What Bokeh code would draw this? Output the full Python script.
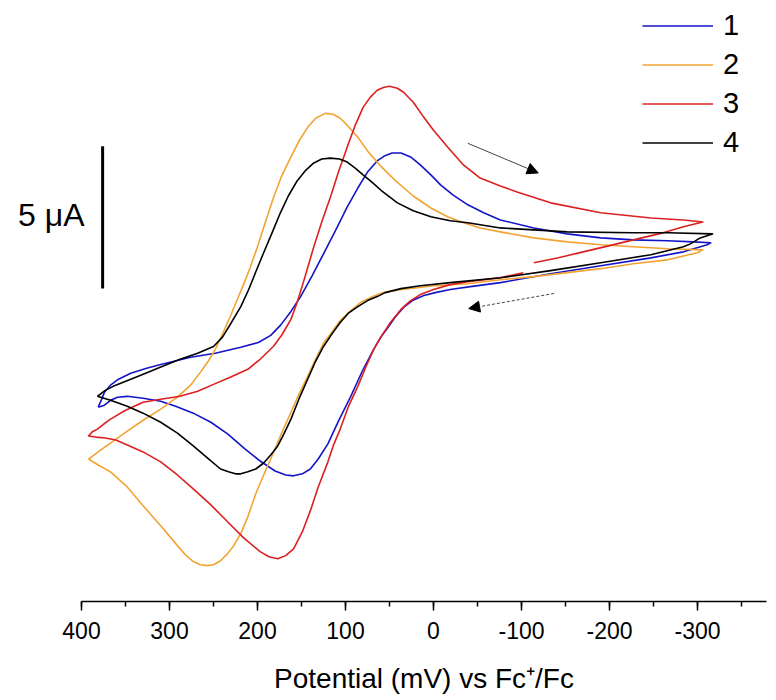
from bokeh.plotting import figure
from bokeh.models import (Range1d, SingleIntervalTicker, FixedTicker, Legend, LegendItem,
                          Arrow, NormalHead, PrintfTickFormatter)
from bokeh.embed import file_html
from bokeh.resources import INLINE

# ---------------- data (potential in mV vs Fc+/Fc, current in uA, arbitrary zero) -------------
# curve 1 : upper branch (left->right) then lower branch (right->left)
E1 = [381, 378, 374, 367, 358, 344, 327, 310, 276, 248, 219, 199, 185, 174, 162, 151, 138, 125,
      111, 98, 86, 75, 64, 56, 47, 37, 26, 15, 3, -8, -22, -39, -57, -76, -114, -152, -190,
      -227, -266, -295, -315,
      -311, -284, -247, -190, -133, -76, -42, -19, -2, 11, 24, 34, 43, 51, 60, 68, 81, 94, 108,
      120, 131, 140, 149, 159, 168, 180, 197, 214, 234, 253, 273, 293, 310, 330, 348, 359, 367,
      374, 381]
I1 = [-4.16, -3.95, -3.64, -3.39, -3.18, -2.97, -2.80, -2.66, -2.41, -2.27, -2.06, -1.89, -1.64,
      -1.29, -0.80, -0.28, 0.45, 1.22, 2.06, 2.87, 3.53, 4.09, 4.48, 4.65, 4.76, 4.76, 4.62,
      4.34, 3.99, 3.64, 3.29, 2.94, 2.66, 2.41, 2.13, 1.92, 1.78, 1.71, 1.68, 1.64, 1.61,
      1.54, 1.29, 1.08, 0.80, 0.52, 0.21, 0.07, -0.03, -0.14, -0.24, -0.42, -0.66, -0.98, -1.33,
      -1.71, -2.13, -2.90, -3.78, -4.65, -5.45, -5.98, -6.33, -6.50, -6.57, -6.54, -6.40, -6.05,
      -5.63, -5.10, -4.69, -4.37, -4.13, -3.95, -3.85, -3.78, -3.81, -3.92, -4.09, -4.16]

# curve 2
E2 = [392, 378, 367, 348, 330, 310, 291, 276, 265, 256, 248, 239, 231, 223, 215, 208, 200, 191,
      182, 173, 162, 153, 143, 134, 123, 114, 106, 97, 86, 74, 60, 43, 23, 3, -16, -34, -53,
      -76, -114, -152, -190, -227, -266, -306,
      -300, -266, -227, -190, -152, -114, -76, -39, 0, 18, 37, 57, 69, 83, 94, 106, 115, 125,
      134, 143, 153, 162, 174, 185, 194, 202, 211, 219, 227, 234, 242, 250, 257, 265, 273, 282,
      291, 310, 330, 348, 367, 381, 392]
I2 = [-5.98, -5.66, -5.42, -5.00, -4.62, -4.23, -3.81, -3.39, -2.94, -2.55, -2.13, -1.54, -0.98,
      -0.38, 0.21, 0.77, 1.47, 2.34, 3.18, 3.92, 4.62, 5.17, 5.66, 5.98, 6.15, 6.12, 5.98, 5.70,
      5.31, 4.79, 4.30, 3.78, 3.25, 2.83, 2.52, 2.31, 2.13, 1.99, 1.78, 1.64, 1.54, 1.47, 1.40,
      1.36,
      1.26, 1.01, 0.87, 0.70, 0.56, 0.42, 0.31, 0.17, 0.10, 0.03, -0.03, -0.14, -0.28, -0.49,
      -0.77, -1.12, -1.50, -1.92, -2.48, -3.08, -3.71, -4.34, -5.17, -5.98, -6.61, -7.20, -8.01,
      -8.60, -9.02, -9.30, -9.55, -9.69, -9.72, -9.69, -9.58, -9.34, -9.02, -8.32, -7.62, -6.96,
      -6.43, -6.19, -5.98]

# curve 3 : starts on the lower branch near -100 mV
E3 = [-102, -76, -39, -19, 0, 15, 26, 37, 49, 60, 68, 77, 86, 97, 106, 114, 120, 131, 140, 149,
      159, 168, 177, 187, 197, 216, 234, 253, 273, 291, 310, 330, 348, 361, 373, 384, 392,
      388, 382, 375, 367, 350, 330, 310, 288, 268, 250, 231, 211, 197, 182, 172, 162, 155, 148,
      142, 136, 127, 117, 108, 98, 89, 80, 72, 64, 57, 50, 41, 34, 23, 11, 0, -16, -34, -53,
      -76, -95, -133, -190, -247, -284, -306,
      -284, -256, -227, -199, -170, -142, -114]
I3 = [0.56, 0.38, 0.24, 0.14, -0.03, -0.21, -0.42, -0.73, -1.19, -1.71, -2.13, -2.76, -3.43,
      -4.16, -4.93, -5.52, -6.08, -6.96, -7.80, -8.53, -9.13, -9.37, -9.48, -9.41, -9.23, -8.74,
      -8.18, -7.59, -7.03, -6.54, -6.08, -5.73, -5.49, -5.31, -5.24, -5.21, -5.17,
      -5.03, -4.93, -4.76, -4.58, -4.27, -3.99, -3.88, -3.78, -3.60, -3.36, -3.11, -2.83, -2.48,
      -2.03, -1.61, -1.08, -0.49, 0.21, 0.84, 1.47, 2.34, 3.22, 4.09, 4.97, 5.73, 6.36, 6.71,
      6.96, 7.06, 7.10, 7.03, 6.89, 6.54, 6.01, 5.56, 4.97, 4.34, 3.88, 3.60, 3.39, 3.01, 2.66,
      2.48, 2.41, 2.34,
      2.17, 1.92, 1.71, 1.50, 1.29, 1.08, 0.91]

# curve 4
E4 = [382, 373, 364, 344, 325, 305, 288, 268, 250, 240, 231, 219, 210, 201, 193, 183, 174, 165,
      155, 145, 136, 127, 117, 107, 98, 89, 80, 69, 60, 41, 23, 3, -19, -39, -76, -114, -152,
      -227, -266, -317,
      -303, -292, -284, -247, -190, -133, -76, -19, 15, 37, 55, 64, 75, 86, 97, 106, 115, 125,
      134, 143, 153, 162, 170, 177, 185, 193, 202, 211, 219, 225, 233, 242, 257, 273, 291, 310,
      330, 348, 367, 382]
I4 = [-3.78, -3.57, -3.43, -3.18, -2.94, -2.69, -2.48, -2.27, -2.03, -1.71, -1.26, -0.63, -0.03,
      0.66, 1.26, 1.99, 2.66, 3.25, 3.78, 4.16, 4.41, 4.55, 4.58, 4.55, 4.44, 4.23, 3.99, 3.71,
      3.46, 3.01, 2.73, 2.52, 2.38, 2.31, 2.13, 2.06, 1.99, 1.96, 1.96, 1.92,
      1.78, 1.57, 1.47, 1.19, 0.91, 0.63, 0.38, 0.21, 0.10, 0.00, -0.14, -0.28, -0.42, -0.63,
      -0.87, -1.19, -1.57, -2.03, -2.55, -3.18, -3.88, -4.58, -5.10, -5.52, -5.84, -6.12, -6.33,
      -6.43, -6.50, -6.50, -6.43, -6.33, -5.94, -5.52, -5.07, -4.69, -4.37, -4.13, -3.92, -3.78]

labels = ["1", "2", "3", "4"]
colors = ["#1414C8", "#F2A332", "#DC2020", "#000000"]
x_ticks_interval = 100
scale_bar_uA = 5
scale_bar_label = "5 \u03bcA"
scale_bar_label_pos = 2.6

FONT = "Liberation Sans"

p = figure(width=770, height=696, output_backend="svg", toolbar_location=None,
           x_range=Range1d(400, -378.4), y_range=Range1d(-10.98, 9.83),
           y_axis_location="left", min_border_left=81, min_border_right=4,
           min_border_top=8, min_border_bottom=93)
p.outline_line_color = None
p.xgrid.grid_line_color = None
p.ygrid.grid_line_color = None
p.background_fill_color = "white"

ax = p.xaxis[0]
ax.ticker = SingleIntervalTicker(interval=x_ticks_interval, num_minor_ticks=2)
ax.formatter = PrintfTickFormatter(format="%d")
ax.axis_line_width = 1.5
ax.axis_line_color = "black"
ax.major_tick_line_width = 1.5
ax.minor_tick_line_width = 1.5
ax.major_tick_in = 0
ax.major_tick_out = 9
ax.minor_tick_in = 0
ax.minor_tick_out = 5
ax.major_label_text_font = FONT
ax.major_label_text_font_size = "23px"
ax.major_label_text_color = "black"
ax.major_label_standoff = 11
ax.axis_label = "Potential (mV) vs Fc\u207A/Fc"
ax.axis_label_text_font = FONT
ax.axis_label_text_font_size = "28px"
ax.axis_label_text_font_style = "normal"
ax.axis_label_text_color = "black"
ax.axis_label_standoff = 21

# the left axis only carries the "5 uA" label of the scale bar
ay = p.yaxis[0]
ay.ticker = FixedTicker(ticks=[scale_bar_label_pos])
ay.major_label_overrides = {scale_bar_label_pos: scale_bar_label}
ay.axis_line_color = None
ay.major_tick_line_color = None
ay.minor_tick_line_color = None
ay.major_tick_in = 0
ay.major_tick_out = 0
ay.minor_tick_in = 0
ay.minor_tick_out = 0
ay.major_label_standoff = -3
ay.major_label_text_font = FONT
ay.major_label_text_font_size = "32px"
ay.major_label_text_color = "black"

series = [(E1, I1), (E2, I2), (E3, I3), (E4, I4)]
items = []
for (e, i), lab, c in zip(series, labels, colors):
    r = p.line(e, i, line_color=c, line_width=1.6, line_join="round")
    items.append(LegendItem(label=lab, renderers=[r]))

legend = Legend(items=items, location=(561, 439), orientation="vertical",
                label_text_font=FONT, label_text_font_size="29px", label_text_color="black",
                label_text_baseline="middle",
                glyph_width=71, glyph_height=39, label_height=39, label_width=26,
                label_standoff=10, spacing=0, padding=0, margin=0,
                border_line_color=None, background_fill_alpha=0)
p.add_layout(legend)

# scale bar (5 uA)
p.line([376, 376], [0, scale_bar_uA], line_color="black", line_width=3)

# scan direction arrows
p.add_layout(Arrow(x_start=-39, y_start=5.10, x_end=-119, y_end=4.06,
                   line_color="#444444", line_width=1,
                   end=NormalHead(size=11, fill_color="black", line_color="black")))
p.add_layout(Arrow(x_start=-137, y_start=-0.17, x_end=-40, y_end=-0.70,
                   line_color="#444444", line_width=1, line_dash="3 2",
                   end=NormalHead(size=11, fill_color="black", line_color="black")))

open("out.html", "w").write(file_html(p, INLINE))
